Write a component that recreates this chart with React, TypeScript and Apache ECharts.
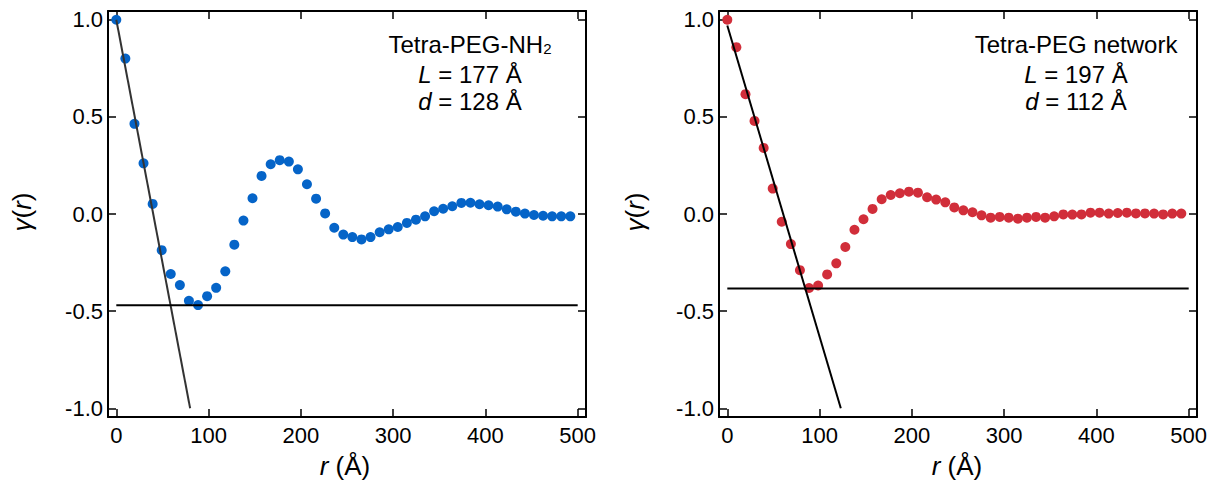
import React, { useEffect, useRef } from "react";
import * as echarts from "echarts";

const rValues = [0, 9.8, 19.7, 29.5, 39.4, 49.2, 59.0, 68.9, 78.7, 88.6, 98.4, 108.2, 118.1, 127.9, 137.8, 147.6, 157.4, 167.3, 177.1, 187.0, 196.8, 206.6, 216.5, 226.3, 236.2, 246.0, 255.8, 265.7, 275.5, 285.4, 295.2, 305.0, 314.9, 324.7, 334.6, 344.4, 354.2, 364.1, 373.9, 383.8, 393.6, 403.4, 413.3, 423.1, 433.0, 442.8, 452.6, 462.5, 472.3, 482.2, 492.0];

const nh2Gamma = [1.0, 0.80, 0.464, 0.261, 0.052, -0.186, -0.309, -0.366, -0.447, -0.469, -0.423, -0.380, -0.295, -0.158, -0.034, 0.081, 0.196, 0.256, 0.277, 0.270, 0.230, 0.153, 0.079, 0.003, -0.071, -0.106, -0.119, -0.131, -0.119, -0.094, -0.079, -0.067, -0.046, -0.029, -0.012, 0.014, 0.027, 0.040, 0.057, 0.058, 0.050, 0.045, 0.038, 0.024, 0.012, 0.002, -0.005, -0.009, -0.012, -0.012, -0.012];

const networkGamma = [1.0, 0.859, 0.617, 0.479, 0.340, 0.131, -0.040, -0.155, -0.289, -0.381, -0.368, -0.311, -0.254, -0.170, -0.081, -0.027, 0.026, 0.076, 0.098, 0.107, 0.115, 0.110, 0.086, 0.074, 0.060, 0.034, 0.019, 0.009, -0.007, -0.019, -0.015, -0.019, -0.024, -0.019, -0.015, -0.019, -0.012, -0.002, -0.003, -0.002, 0.007, 0.007, 0.002, 0.005, 0.007, 0.003, 0.003, 0.002, -0.002, 0.002, 0.002];

const nh2Fit = [[0, 1.0], [80, -1.0]];
const networkFit = [[0, 0.97], [123, -1.0]];
const nh2Plateau = [[0, -0.47], [500, -0.47]];
const networkPlateau = [[0, -0.383], [500, -0.383]];

const xTicks = [0, 100, 200, 300, 400, 500];
const yTicks = [-1.0, -0.5, 0.0, 0.5, 1.0];

const nh2Labels = ["Tetra-PEG-NH{sub|2}", "{i|L} = 177 Å", "{i|d} = 128 Å"];
const networkLabels = ["Tetra-PEG network", "{i|L} = 197 Å", "{i|d} = 112 Å"];

const FONT = "'Liberation Sans', Arial, Helvetica, sans-serif";

export default function App() {
  const ref = useRef<HTMLDivElement>(null);
  useEffect(() => {
    if (!ref.current) return;
    const chart = echarts.init(ref.current, undefined, { renderer: "svg" });

    const grids = [
      { left: 108, top: 11, width: 478, height: 406 },
      { left: 719, top: 11, width: 478, height: 406 },
    ];

    const axisLine = { show: true, onZero: false, lineStyle: { color: "#000", width: 2 } };
    const tickStyle = (vals: number[]) => ({
      show: true,
      inside: true,
      length: 8,
      customValues: vals,
      lineStyle: { color: "#000", width: 1.5 },
    });

    const xAxes: any[] = [];
    const yAxes: any[] = [];
    [0, 1].forEach((g) => {
      xAxes.push({
        type: "value",
        gridIndex: g,
        position: "bottom",
        min: -9,
        max: 509,
        axisLine,
        axisTick: tickStyle(xTicks),
        axisLabel: {
          show: true,
          customValues: xTicks,
          margin: 7,
          color: "#000",
          fontSize: 22,
          fontFamily: FONT,
        },
        splitLine: { show: false },
      });
      xAxes.push({
        type: "value",
        gridIndex: g,
        position: "top",
        min: -9,
        max: 509,
        axisLine,
        axisTick: tickStyle(xTicks),
        axisLabel: { show: false },
        splitLine: { show: false },
      });
      yAxes.push({
        type: "value",
        gridIndex: g,
        position: "left",
        min: -1.045,
        max: 1.045,
        axisLine,
        axisTick: tickStyle(yTicks),
        axisLabel: {
          show: true,
          customValues: yTicks,
          margin: 5,
          color: "#000",
          fontSize: 22,
          fontFamily: FONT,
          formatter: (v: number) => v.toFixed(1),
        },
        splitLine: { show: false },
      });
      yAxes.push({
        type: "value",
        gridIndex: g,
        position: "right",
        min: -1.045,
        max: 1.045,
        axisLine,
        axisTick: tickStyle(yTicks),
        axisLabel: { show: false },
        splitLine: { show: false },
      });
    });

    const scatter = (vals: number[], color: string, xi: number, yi: number) => ({
      type: "scatter",
      xAxisIndex: xi,
      yAxisIndex: yi,
      data: rValues.map((r, i) => [r, vals[i]]),
      symbol: "circle",
      symbolSize: 10,
      itemStyle: { color, opacity: 1 },
      z: 2,
    });
    const line = (data: number[][], color: string, xi: number, yi: number) => ({
      type: "line",
      xAxisIndex: xi,
      yAxisIndex: yi,
      data,
      symbol: "none",
      lineStyle: { color, width: 2 },
      z: 3,
    });

    const textEl = (text: string, x: number, y: number, size = 24, rotation = 0) => ({
      type: "text",
      x,
      y,
      rotation,
      style: {
        text,
        align: "center",
        verticalAlign: "middle",
        fontSize: size,
        fontFamily: FONT,
        fill: "#000",
        rich: {
          i: { fontStyle: "italic", fontSize: size, fontFamily: FONT, fill: "#000" },
          sub: { fontSize: 15, fontFamily: FONT, fill: "#000", verticalAlign: "bottom" },
        },
      },
    });

    const lineYs = [44, 74, 101];
    const graphics: any[] = [];
    nh2Labels.forEach((t, i) => graphics.push(textEl(t, 470, lineYs[i])));
    networkLabels.forEach((t, i) => graphics.push(textEl(t, 1076, lineYs[i])));
    graphics.push(textEl("{i|γ}({i|r})", 22, 212, 26, Math.PI / 2));
    graphics.push(textEl("{i|γ}({i|r})", 635, 212, 26, Math.PI / 2));
    graphics.push(textEl("{i|r} (Å)", 345, 466, 26));
    graphics.push(textEl("{i|r} (Å)", 957, 466, 26));

    chart.setOption({
      animation: false,
      backgroundColor: "#fff",
      grid: grids,
      xAxis: xAxes,
      yAxis: yAxes,
      series: [
        scatter(nh2Gamma, "#0564C8", 0, 0),
        line(nh2Fit, "#333333", 0, 0),
        line(nh2Plateau, "#000000", 0, 0),
        scatter(networkGamma, "#D12E3A", 2, 2),
        line(networkFit, "#000000", 2, 2),
        line(networkPlateau, "#000000", 2, 2),
      ],
      graphic: graphics,
    });

    return () => chart.dispose();
  }, []);

  return <div ref={ref} style={{ width: 1220, height: 487, position: "absolute", left: 0, top: 0 }} />;
}
